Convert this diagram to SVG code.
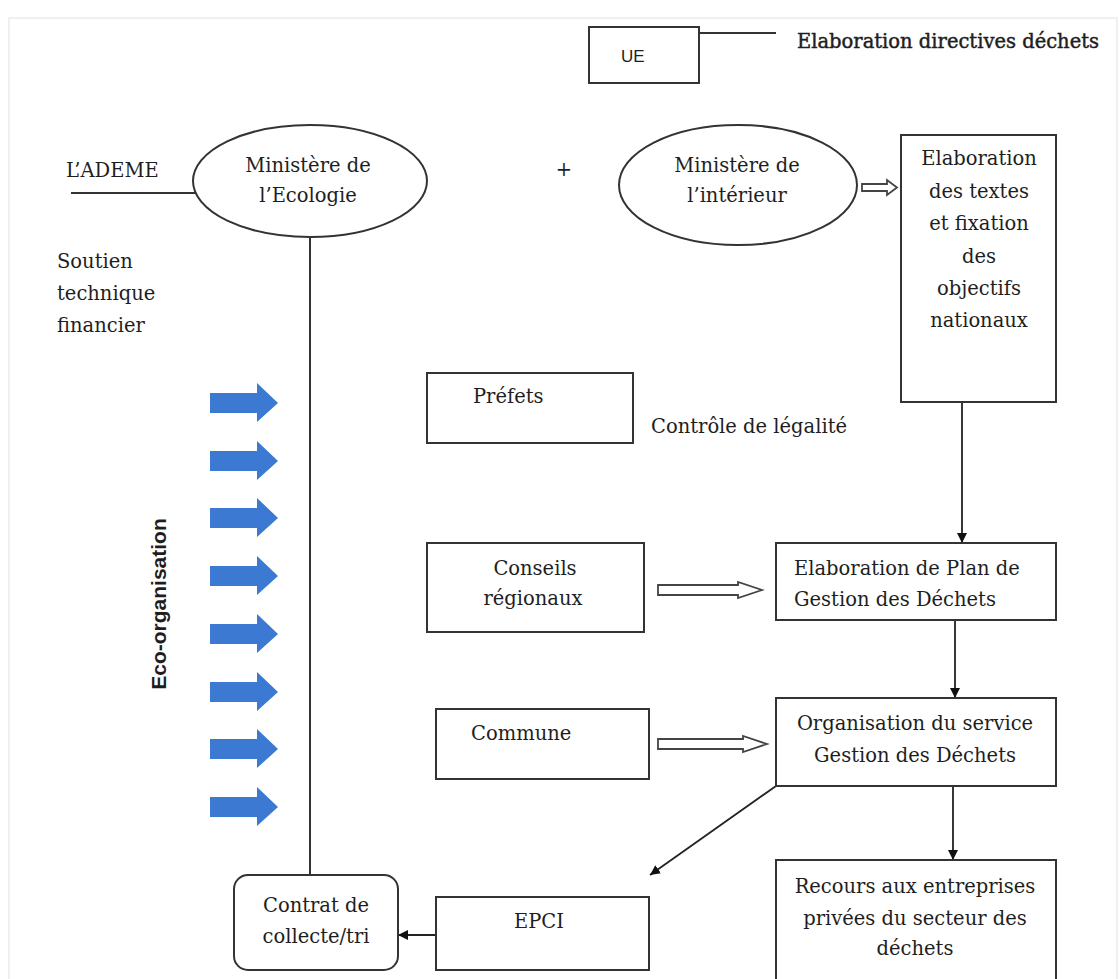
<svg xmlns="http://www.w3.org/2000/svg" width="1119" height="979" viewBox="0 0 1119 979">
  <style>
    .box { fill: #ffffff; stroke: #333333; stroke-width: 2; }
    .ell { fill: #ffffff; stroke: #333333; stroke-width: 2; }
    .ln { fill: none; stroke: #333333; stroke-width: 2; }
    .arr { fill: none; stroke: #222222; stroke-width: 1.8; marker-end: url(#head); }
    .hollow { fill: #ffffff; stroke: #444444; stroke-width: 1.8; stroke-linejoin: miter; }
    .blue { fill: #3b79d2; }
    .t { font-family: "DejaVu Serif", "Liberation Serif", serif; font-size: 19.5px; fill: #1e1e1e; }
    .heavy { stroke: #1e1e1e; stroke-width: 0.45; }
    .c { text-anchor: middle; }
    .sans { font-family: "Liberation Sans", Arial, sans-serif; fill: #1e1e1e; }
  </style>
  <defs>
    <marker id="head" markerUnits="userSpaceOnUse" markerWidth="11" markerHeight="10" refX="10" refY="5" orient="auto">
      <path d="M0,0 L10,5 L0,10 z" fill="#111111"/>
    </marker>
    <polygon id="bluearrow" points="0,-10 47,-10 47,-20 68,0 47,19 47,10 0,10"/>
  </defs>

  <rect width="1119" height="979" fill="#ffffff"/>
  <!-- faint page edge -->
  <path d="M9,979 L9,18 L1117,18 L1117,979" fill="none" stroke="#ececec" stroke-width="1.5"/>

  <!-- connectors -->
  <g id="connectors">
    <line class="ln" x1="699" y1="33" x2="776" y2="33"/>
    <line class="ln" x1="71" y1="193" x2="196" y2="193"/>
    <line class="ln" x1="310" y1="237" x2="310" y2="875"/>
    <line class="arr" x1="962" y1="402" x2="962" y2="543"/>
    <line class="arr" x1="955" y1="620" x2="955" y2="698"/>
    <line class="arr" x1="953" y1="786" x2="953" y2="860"/>
    <line class="arr" x1="776" y1="786" x2="650" y2="875"/>
    <line class="arr" x1="436" y1="935" x2="398" y2="935"/>
    <polygon class="hollow" points="862,184 887,184 887,180 897,187.5 887,195 887,191 862,191"/>
    <polygon class="hollow" points="658,585 738,585 738,582 762,590 738,598 738,595 658,595"/>
    <polygon class="hollow" points="658,739 743,739 743,736 767,744 743,752 743,749 658,749"/>
  </g>

  <!-- blue eco-organisation arrows -->
  <g id="eco-arrows" class="blue">
    <use href="#bluearrow" x="210" y="403"/>
    <use href="#bluearrow" x="210" y="461"/>
    <use href="#bluearrow" x="210" y="518"/>
    <use href="#bluearrow" x="210" y="576"/>
    <use href="#bluearrow" x="210" y="634"/>
    <use href="#bluearrow" x="210" y="692"/>
    <use href="#bluearrow" x="210" y="749"/>
    <use href="#bluearrow" x="210" y="807"/>
  </g>

  <g id="eco-label">
    <text class="sans" font-weight="bold" font-size="21" text-anchor="middle" transform="translate(166,604) rotate(-90)">Eco-organisation</text>
  </g>

  <g id="ue">
    <rect class="box" x="589" y="27" width="110" height="56"/>
    <text class="sans" font-size="17" x="621" y="62">UE</text>
  </g>
  <g id="directives">
    <text class="t heavy" x="797" y="48">Elaboration directives déchets</text>
  </g>

  <g id="ademe">
    <text class="t" x="66" y="177" font-size="21">L’ADEME</text>
  </g>

  <g id="ministere-ecologie">
    <ellipse class="ell" cx="310" cy="181" rx="117" ry="56"/>
    <text class="t c" x="308" y="172">Ministère de</text>
    <text class="t c" x="308" y="202">l’Ecologie</text>
  </g>

  <g id="plus">
    <text class="t c" x="564" y="176">+</text>
  </g>

  <g id="ministere-interieur">
    <ellipse class="ell" cx="738" cy="185" rx="119" ry="60"/>
    <text class="t c" x="737" y="172">Ministère de</text>
    <text class="t c" x="737" y="202">l’intérieur</text>
  </g>

  <g id="textes-nationaux">
    <rect class="box" x="901" y="135" width="155" height="267"/>
    <text class="t c" x="979" y="165">Elaboration</text>
    <text class="t c" x="979" y="198">des textes</text>
    <text class="t c" x="979" y="230">et fixation</text>
    <text class="t c" x="979" y="263">des</text>
    <text class="t c" x="979" y="295">objectifs</text>
    <text class="t c" x="979" y="327">nationaux</text>
  </g>

  <g id="soutien">
    <text class="t" x="57" y="268">Soutien</text>
    <text class="t" x="57" y="300">technique</text>
    <text class="t" x="57" y="332">financier</text>
  </g>

  <g id="prefets">
    <rect class="box" x="427" y="373" width="206" height="70"/>
    <text class="t" x="473" y="403">Préfets</text>
  </g>
  <g id="controle">
    <text class="t" x="651" y="433">Contrôle de légalité</text>
  </g>

  <g id="conseils">
    <rect class="box" x="427" y="543" width="217" height="89"/>
    <text class="t c" x="535" y="575">Conseils</text>
    <text class="t c" x="533" y="605">régionaux</text>
  </g>

  <g id="plan-gestion">
    <rect class="box" x="776" y="543" width="280" height="77"/>
    <text class="t" x="794" y="575">Elaboration de Plan de</text>
    <text class="t" x="794" y="606">Gestion des Déchets</text>
  </g>

  <g id="commune">
    <rect class="box" x="436" y="709" width="213" height="70"/>
    <text class="t" x="471" y="740">Commune</text>
  </g>

  <g id="organisation-service">
    <rect class="box" x="776" y="698" width="280" height="88"/>
    <text class="t c" x="915" y="730">Organisation du service</text>
    <text class="t c" x="915" y="762">Gestion des Déchets</text>
  </g>

  <g id="recours">
    <rect class="box" x="776" y="860" width="280" height="130"/>
    <text class="t c" x="915" y="893">Recours aux entreprises</text>
    <text class="t c" x="915" y="925">privées du secteur des</text>
    <text class="t c" x="915" y="955">déchets</text>
  </g>

  <g id="epci">
    <rect class="box" x="436" y="897" width="213" height="73"/>
    <text class="t" x="514" y="928">EPCI</text>
  </g>

  <g id="contrat">
    <rect class="box" x="234" y="875" width="164" height="95" rx="14" ry="14"/>
    <text class="t c" x="316" y="912">Contrat de</text>
    <text class="t c" x="316" y="943">collecte/tri</text>
  </g>
</svg>
